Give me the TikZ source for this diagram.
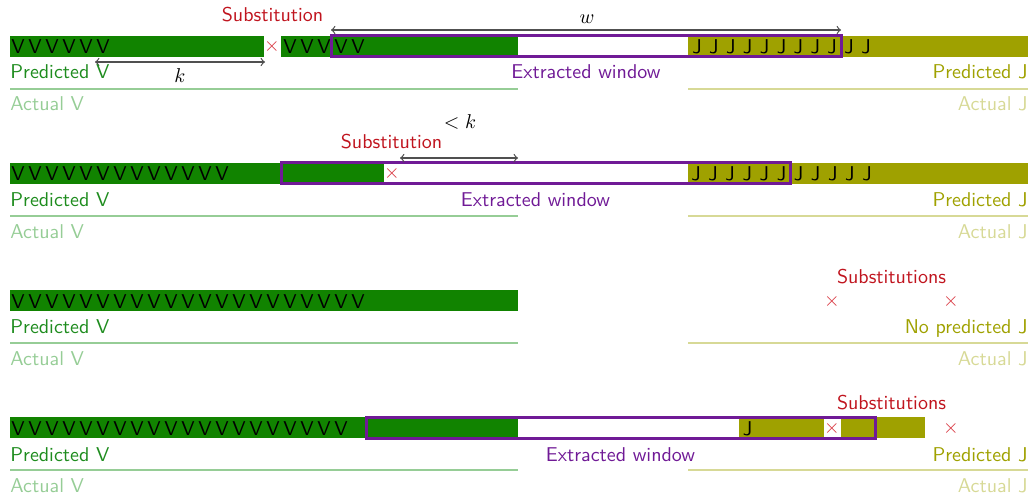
\documentclass[tikz,border=0pt]{standalone}
\definecolor{cV}{RGB}{17,131,0}
\definecolor{cVt}{RGB}{30,140,30}
\definecolor{cVl}{RGB}{150,205,150}
\definecolor{cJ}{RGB}{159,161,0}
\definecolor{cJl}{RGB}{215,217,150}
\definecolor{cW}{RGB}{112,26,150}
\definecolor{cS}{RGB}{192,20,30}
\definecolor{cX}{RGB}{215,50,60}
\definecolor{cA}{RGB}{80,80,80}
\begin{document}
\begin{tikzpicture}[x=0.5pt,y=-0.5pt,font=\sffamily,
  lett/.style={inner sep=0pt,anchor=base,text=black},
  lbl/.style={inner sep=0pt,anchor=base},
  predV/.style={lbl,anchor=base west,text=cVt},
  actV/.style={lbl,anchor=base west,text=cVl},
  predJ/.style={lbl,anchor=base east,text=cJ},
  actJ/.style={lbl,anchor=base east,text=cJl},
  winlbl/.style={lbl,text=cW},
  sublbl/.style={lbl,text=cS},
  crossmk/.style={inner sep=0pt,text=cX},
  win/.style={draw=cW,line width=1.5pt},
  vline/.style={draw=cVl,line width=1pt},
  jline/.style={draw=cJl,line width=1pt},
  dim/.style={draw=cA,line width=0.6pt,<->}]
\useasboundingbox (0,0) rectangle (1032,497);

% ---------------- Row 1 ----------------
\fill[cV] (10,36) rectangle (264,57);
\fill[cV] (281,36) rectangle (518,57);
\fill[cJ] (688,36) rectangle (1028,57);
\foreach \i in {0,...,5} \node[lett] (r1v\i) at (18+17*\i,54) {V};
\foreach \i in {0,...,4} \node[lett] (r1u\i) at (290+17*\i,54) {V};
\foreach \i in {0,...,10} \node[lett] (r1j\i) at (697+16.9*\i,54) {J};
\draw[win] (331,36) rectangle (841,57);
\node[crossmk] (r1x) at (272,47) {$\times$};
\node[sublbl] (r1s) at (272.5,22) {Substitution};
\coordinate (r1w1) at (331,30);
\coordinate (r1w2) at (841,30);
\draw[dim] (r1w1) -- (r1w2);
\node[lbl] (r1wl) at (587,24) {$w$};
\coordinate (r1k1) at (95,62);
\coordinate (r1k2) at (265,62);
\draw[dim] (r1k1) -- (r1k2);
\node[lbl] (r1kl) at (180,83) {$k$};
\node[predV] (r1pv) at (10,79) {Predicted V};
\node[winlbl] (r1ew) at (586,79) {Extracted window};
\node[predJ] (r1pj) at (1028,79) {Predicted J};
\draw[vline] (10,89) -- (518,89);
\draw[jline] (688,89) -- (1028,89);
\node[actV] (r1av) at (10,111) {Actual V};
\node[actJ] (r1aj) at (1028,111) {Actual J};

% ---------------- Row 2 ----------------
\fill[cV] (10,163) rectangle (384,184);
\fill[cJ] (688,163) rectangle (1028,184);
\foreach \i in {0,...,12} \node[lett] (r2v\i) at (18+17*\i,181) {V};
\foreach \i in {0,...,10} \node[lett] (r2j\i) at (696+17.1*\i,181) {J};
\draw[win] (281,163) rectangle (790,184);
\node[crossmk] (r2x) at (392,174) {$\times$};
\node[sublbl] (r2s) at (391.5,149) {Substitution};
\coordinate (r2k1) at (400,158);
\coordinate (r2k2) at (518,158);
\draw[dim] (r2k1) -- (r2k2);
\node[lbl] (r2kl) at (460,129) {$<k$};
\node[predV] (r2pv) at (10,206) {Predicted V};
\node[winlbl] (r2ew) at (535.5,206) {Extracted window};
\node[predJ] (r2pj) at (1028,206) {Predicted J};
\draw[vline] (10,216) -- (518,216);
\draw[jline] (688,216) -- (1028,216);
\node[actV] (r2av) at (10,238) {Actual V};
\node[actJ] (r2aj) at (1028,238) {Actual J};

% ---------------- Row 3 ----------------
\fill[cV] (10,290) rectangle (518,311);
\foreach \i in {0,...,20} \node[lett] (r3v\i) at (18+17*\i,308) {V};
\node[sublbl] (r3s) at (891.5,283) {Substitutions};
\node[crossmk] (r3xa) at (832,301) {$\times$};
\node[crossmk] (r3xb) at (951,301) {$\times$};
\node[predV] (r3pv) at (10,333) {Predicted V};
\node[predJ] (r3pj) at (1028,333) {No predicted J};
\draw[vline] (10,343) -- (518,343);
\draw[jline] (688,343) -- (1028,343);
\node[actV] (r3av) at (10,365) {Actual V};
\node[actJ] (r3aj) at (1028,365) {Actual J};

% ---------------- Row 4 ----------------
\fill[cV] (10,417) rectangle (518,438);
\fill[cJ] (739,417) rectangle (824,438);
\fill[cJ] (841,417) rectangle (925,438);
\foreach \i in {0,...,19} \node[lett] (r4v\i) at (18+17*\i,435) {V};
\node[lett] (r4j) at (747.5,435) {J};
\draw[win] (366,417) rectangle (875,438);
\node[crossmk] (r4xa) at (832,428) {$\times$};
\node[crossmk] (r4xb) at (951,428) {$\times$};
\node[sublbl] (r4s) at (891.5,409) {Substitutions};
\node[predV] (r4pv) at (10,461) {Predicted V};
\node[winlbl] (r4ew) at (620.5,461) {Extracted window};
\node[predJ] (r4pj) at (1028,461) {Predicted J};
\draw[vline] (10,470) -- (518,470);
\draw[jline] (688,470) -- (1028,470);
\node[actV] (r4av) at (10,492) {Actual V};
\node[actJ] (r4aj) at (1028,492) {Actual J};
\end{tikzpicture}
\end{document}
